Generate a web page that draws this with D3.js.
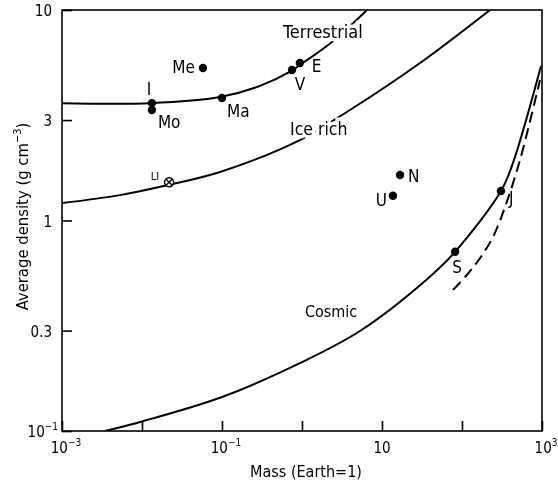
<!DOCTYPE html>
<html lang="en">
<head>
  <meta charset="UTF-8">
  <title>Density vs mass</title>
  <style>
    body { margin: 0; background: #fff; }
    svg { filter: grayscale(1); }
    text { font-family: "DejaVu Sans Condensed", "DejaVu Sans", sans-serif; font-stretch: condensed; fill: #000; }
  </style>
</head>
<body>
  <svg></svg>
  <script src="https://cdn.jsdelivr.net/npm/d3@7"></script>
  <script>
    // curves (mass in Earth masses, density in g cm^-3)
    const terrestrialMass    = [0.001, 0.0126, 0.0944, 0.298, 0.73, 0.94, 2.37, 6.49]
    const terrestrialDensity = [3.61, 3.61, 3.86, 4.36, 5.13, 5.48, 7.05, 10]

    const iceMass    = [0.001, 0.00531, 0.0205, 0.0944, 0.94, 3.98, 29.9, 224]
    const iceDensity = [1.21, 1.32, 1.47, 1.70, 2.41, 3.35, 5.60, 10]

    const cosmicMass    = [0.00345, 0.01, 0.1, 0.94, 5.3, 34.5, 82, 307, 434, 972]
    const cosmicDensity = [0.1, 0.111, 0.145, 0.210, 0.2985, 0.516, 0.71, 1.38, 1.88, 5.42]

    const dashedMass    = [77.2, 115, 168, 244, 345, 531, 944]
    const dashedDensity = [0.468, 0.551, 0.663, 0.835, 1.16, 1.94, 4.65]

    // bodies
    const bodyNames   = ["Me", "I", "Mo", "Ma", "V", "E", "N", "U", "S", "J"]
    const bodyMass    = [0.0578, 0.0133, 0.0133, 0.1, 0.75, 0.94, 16.8, 13.7, 82, 307]
    const bodyDensity = [5.30, 3.61, 3.35, 3.82, 5.19, 5.6, 1.645, 1.31, 0.71, 1.38]
    const liMass = 0.0218, liDensity = 1.52

    // axes
    const xTicks = [1e-3, 1e-2, 1e-1, 1, 10, 100, 1000]
    const xTickLabels = [["10", "-3"], null, ["10", "-1"], null, ["10", ""], null, ["10", "3"]]
    const yTicks = [0.1, 0.3, 1, 3, 10]
    const yTickLabels = [["10", "-1"], ["0.3", ""], ["1", ""], ["3", ""], ["10", ""]]

    // label placement (dx, dy, anchor) relative to each point
    const labelPlace = {
      Me: [-8, 5, "end"], I: [-3, -8, "middle"], Mo: [6, 18, "start"], Ma: [5, 19, "start"],
      V: [8, 20, "middle"], E: [12, 9, "start"], N: [8, 7, "start"], U: [-6, 10, "end"],
      S: [2, 21, "middle"], J: [8, 13, "start"]
    }

    var width = 558
    var height = 482
    var pLeft = 62, pRight = 542, pTop = 10, pBottom = 431

    var svg = d3.select("svg")
              .attr("width", width)
              .attr("height", height)

    var x = d3.scaleLog().domain([1e-3, 1e3]).range([pLeft, pRight])
    var y = d3.scaleLog().domain([0.1, 10]).range([pBottom, pTop])

    svg.append("clipPath").attr("id", "plot")
      .append("rect")
      .attr("x", pLeft).attr("y", pTop)
      .attr("width", pRight - pLeft).attr("height", pBottom - pTop)

    // frame
    svg.append("rect")
      .attr("x", pLeft).attr("y", pTop)
      .attr("width", pRight - pLeft).attr("height", pBottom - pTop)
      .attr("fill", "none").attr("stroke", "#000").attr("stroke-width", 1.6)

    var gx = svg.append("g")
      .attr("transform", `translate(0, ${pBottom})`)
      .call(d3.axisBottom(x).tickValues(xTicks).tickSize(-10).tickFormat(""))
    var gy = svg.append("g")
      .attr("transform", `translate(${pLeft}, 0)`)
      .call(d3.axisLeft(y).tickValues(yTicks).tickSize(-10).tickFormat(""))
    gx.select(".domain").remove()
    gy.select(".domain").remove()
    svg.selectAll(".tick line").attr("stroke", "#000").attr("stroke-width", 1.6)

    function supLabel(sel, base, exp) {
      sel.append("tspan").text(base)
      if (exp) sel.append("tspan").attr("dy", -7).attr("font-size", 10).text(exp.replace("-", "\u2212"))
    }

    xTicks.forEach((t, i) => {
      if (!xTickLabels[i]) return
      var txt = svg.append("text")
        .attr("x", x(t) + (xTickLabels[i][1] ? 4 : 0)).attr("y", 453)
        .attr("text-anchor", "middle").attr("font-size", 15)
      supLabel(txt, xTickLabels[i][0], xTickLabels[i][1])
    })
    yTicks.forEach((t, i) => {
      var txt = svg.append("text")
        .attr("x", yTickLabels[i][1] ? 58 : 52).attr("y", y(t) + 6)
        .attr("text-anchor", "end").attr("font-size", 15)
      supLabel(txt, yTickLabels[i][0], yTickLabels[i][1])
    })

    // axis titles
    svg.append("text")
      .attr("x", (pLeft + pRight) / 2 + 4).attr("y", 477)
      .attr("text-anchor", "middle").attr("font-size", 16)
      .text("Mass (Earth=1)")
    var yt = svg.append("text")
      .attr("transform", `translate(28, ${(pTop + pBottom) / 2 - 4}) rotate(-90)`)
      .attr("text-anchor", "middle").attr("font-size", 16.5)
    yt.append("tspan").text("Average density (g cm")
    yt.append("tspan").attr("dy", -7).attr("font-size", 11).text("\u22123")
    yt.append("tspan").attr("dy", 7).text(")")

    // curves
    var line = d3.line()
      .x(d => x(d[0])).y(d => y(d[1]))
      .curve(d3.curveCatmullRom.alpha(0.5))

    var curves = svg.append("g").attr("clip-path", "url(#plot)")
    function drawCurve(ms, ds, dash) {
      curves.append("path")
        .datum(d3.zip(ms, ds))
        .attr("d", line)
        .attr("fill", "none").attr("stroke", "#000").attr("stroke-width", 2)
        .attr("stroke-dasharray", dash || null)
    }
    drawCurve(terrestrialMass, terrestrialDensity)
    drawCurve(iceMass, iceDensity)
    drawCurve(cosmicMass, cosmicDensity)
    drawCurve(dashedMass, dashedDensity, "11,6")

    // curve names, with a white halo to break the line behind them
    const curveNames = [["Terrestrial", 0.579, 7.36, 18], ["Ice rich", 0.708, 2.55, 17.5], ["Cosmic", 1.09, 0.348, 16]]
    curveNames.forEach(c => {
      svg.append("text")
        .attr("x", x(c[1])).attr("y", y(c[2]))
        .attr("font-size", c[3])
        .attr("stroke", "#fff").attr("stroke-width", 7)
        .attr("paint-order", "stroke")
        .text(c[0])
    })

    // bodies
    var pts = d3.zip(bodyNames, bodyMass, bodyDensity)
    svg.selectAll("circle.body")
      .data(pts)
      .join("circle")
      .attr("class", "body")
      .attr("cx", d => x(d[1])).attr("cy", d => y(d[2]))
      .attr("r", 4.2).attr("fill", "#000")

    svg.selectAll("text.body")
      .data(pts)
      .join("text")
      .attr("class", "body")
      .attr("x", d => x(d[1]) + labelPlace[d[0]][0])
      .attr("y", d => y(d[2]) + labelPlace[d[0]][1])
      .attr("text-anchor", d => labelPlace[d[0]][2])
      .attr("font-size", 17)
      .text(d => d[0])

    // LI: circle with a cross
    var lx = x(liMass), ly = y(liDensity)
    svg.append("circle").attr("cx", lx).attr("cy", ly).attr("r", 4.5)
      .attr("fill", "#fff").attr("stroke", "#000").attr("stroke-width", 1.5)
    svg.append("path")
      .attr("d", `M${lx - 3},${ly - 3}L${lx + 3},${ly + 3}M${lx - 3},${ly + 3}L${lx + 3},${ly - 3}`)
      .attr("stroke", "#000").attr("stroke-width", 1.3)
    svg.append("text").attr("x", lx - 10).attr("y", ly - 2)
      .attr("text-anchor", "end").attr("font-size", 11).text("LI")
  </script>
</body>
</html>
